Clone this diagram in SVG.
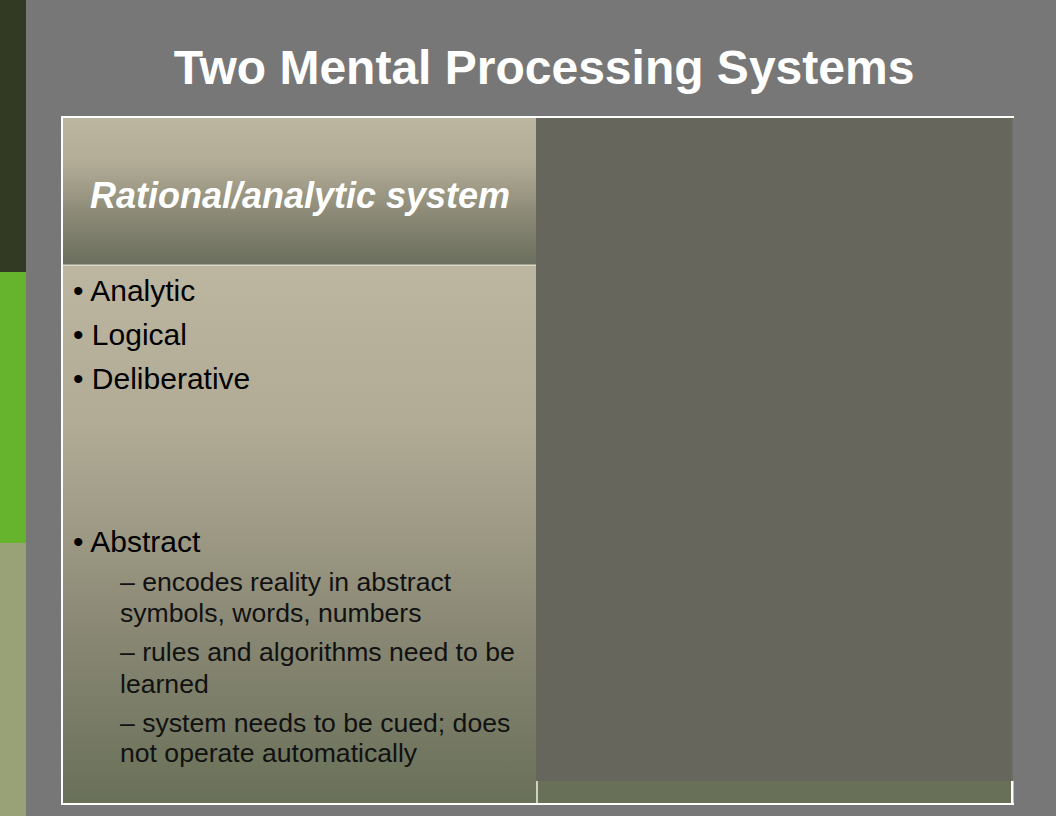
<svg xmlns="http://www.w3.org/2000/svg" width="1056" height="816" viewBox="0 0 1056 816">
  <defs>
    <linearGradient id="gHead" x1="0" y1="0" x2="0" y2="1">
      <stop offset="0" stop-color="#bcb5a0"/>
      <stop offset="0.3" stop-color="#b3ad97"/>
      <stop offset="0.65" stop-color="#8c8a77"/>
      <stop offset="1" stop-color="#6a6e5c"/>
    </linearGradient>
    <linearGradient id="gBody" x1="0" y1="0" x2="0" y2="1">
      <stop offset="0" stop-color="#bcb5a0"/>
      <stop offset="0.3" stop-color="#b1ab95"/>
      <stop offset="0.7" stop-color="#878672"/>
      <stop offset="1" stop-color="#697058"/>
    </linearGradient>
    <style>
      .t { font-family: "Liberation Sans", Arial, sans-serif; }
      .title { font-size: 48px; font-weight: bold; fill: #ffffff; }
      .head { font-size: 36px; font-weight: bold; font-style: italic; fill: #ffffff; }
      .b1 { font-size: 30px; fill: #000000; }
      .b2 { font-size: 26.6px; fill: #111111; }
      .white { fill: #ffffff; }
    </style>
  </defs>

  <g id="background">
    <rect x="0" y="0" width="1056" height="816" fill="#777777"/>
    <rect x="0" y="0" width="26" height="272" fill="#333a24"/>
    <rect x="0" y="272" width="26" height="271" fill="#66b32e"/>
    <rect x="0" y="543" width="26" height="273" fill="#99a276"/>
  </g>

  <g id="title">
    <text class="t title" x="544" y="84" text-anchor="middle">Two Mental Processing Systems</text>
  </g>

  <g id="table">
    <g id="header-cell">
      <rect x="62" y="117" width="475" height="148" fill="url(#gHead)"/>
      <text class="t head" x="300" y="208" text-anchor="middle">Rational/analytic system</text>
    </g>
    <g id="body-cell">
      <rect x="62" y="266" width="475" height="538" fill="url(#gBody)"/>
      <rect x="62" y="264.5" width="475" height="1.5" fill="#dcd9c8"/>
      <text class="t b1" x="73" y="301">• Analytic</text>
      <text class="t b1" x="73" y="345">• Logical</text>
      <text class="t b1" x="73" y="389">• Deliberative</text>
      <text class="t b1" x="73" y="552">• Abstract</text>
      <text class="t b2" x="120" y="591">– encodes reality in abstract</text>
      <text class="t b2" x="120" y="622">symbols, words, numbers</text>
      <text class="t b2" x="120" y="661">– rules and algorithms need to be</text>
      <text class="t b2" x="120" y="693">learned</text>
      <text class="t b2" x="120" y="732">– system needs to be cued; does</text>
      <text class="t b2" x="120" y="762">not operate automatically</text>
    </g>
    <g id="right-cell">
      <rect x="537" y="117" width="475" height="687" fill="#697058"/>
      <rect x="536" y="781" width="2" height="22" fill="#d0d0c0"/>
      <rect x="536" y="117" width="477" height="664" fill="#66665c"/>
      <rect x="1011" y="117" width="2" height="664" fill="#6c6c63"/>
      <rect x="1011" y="781" width="2.5" height="23" class="white"/>
    </g>
    <g id="border">
      <rect x="61" y="116" width="953" height="2" class="white"/>
      <rect x="61" y="116" width="2" height="689" class="white"/>
      <rect x="61" y="803" width="953" height="2" class="white"/>
    </g>
  </g>
</svg>
